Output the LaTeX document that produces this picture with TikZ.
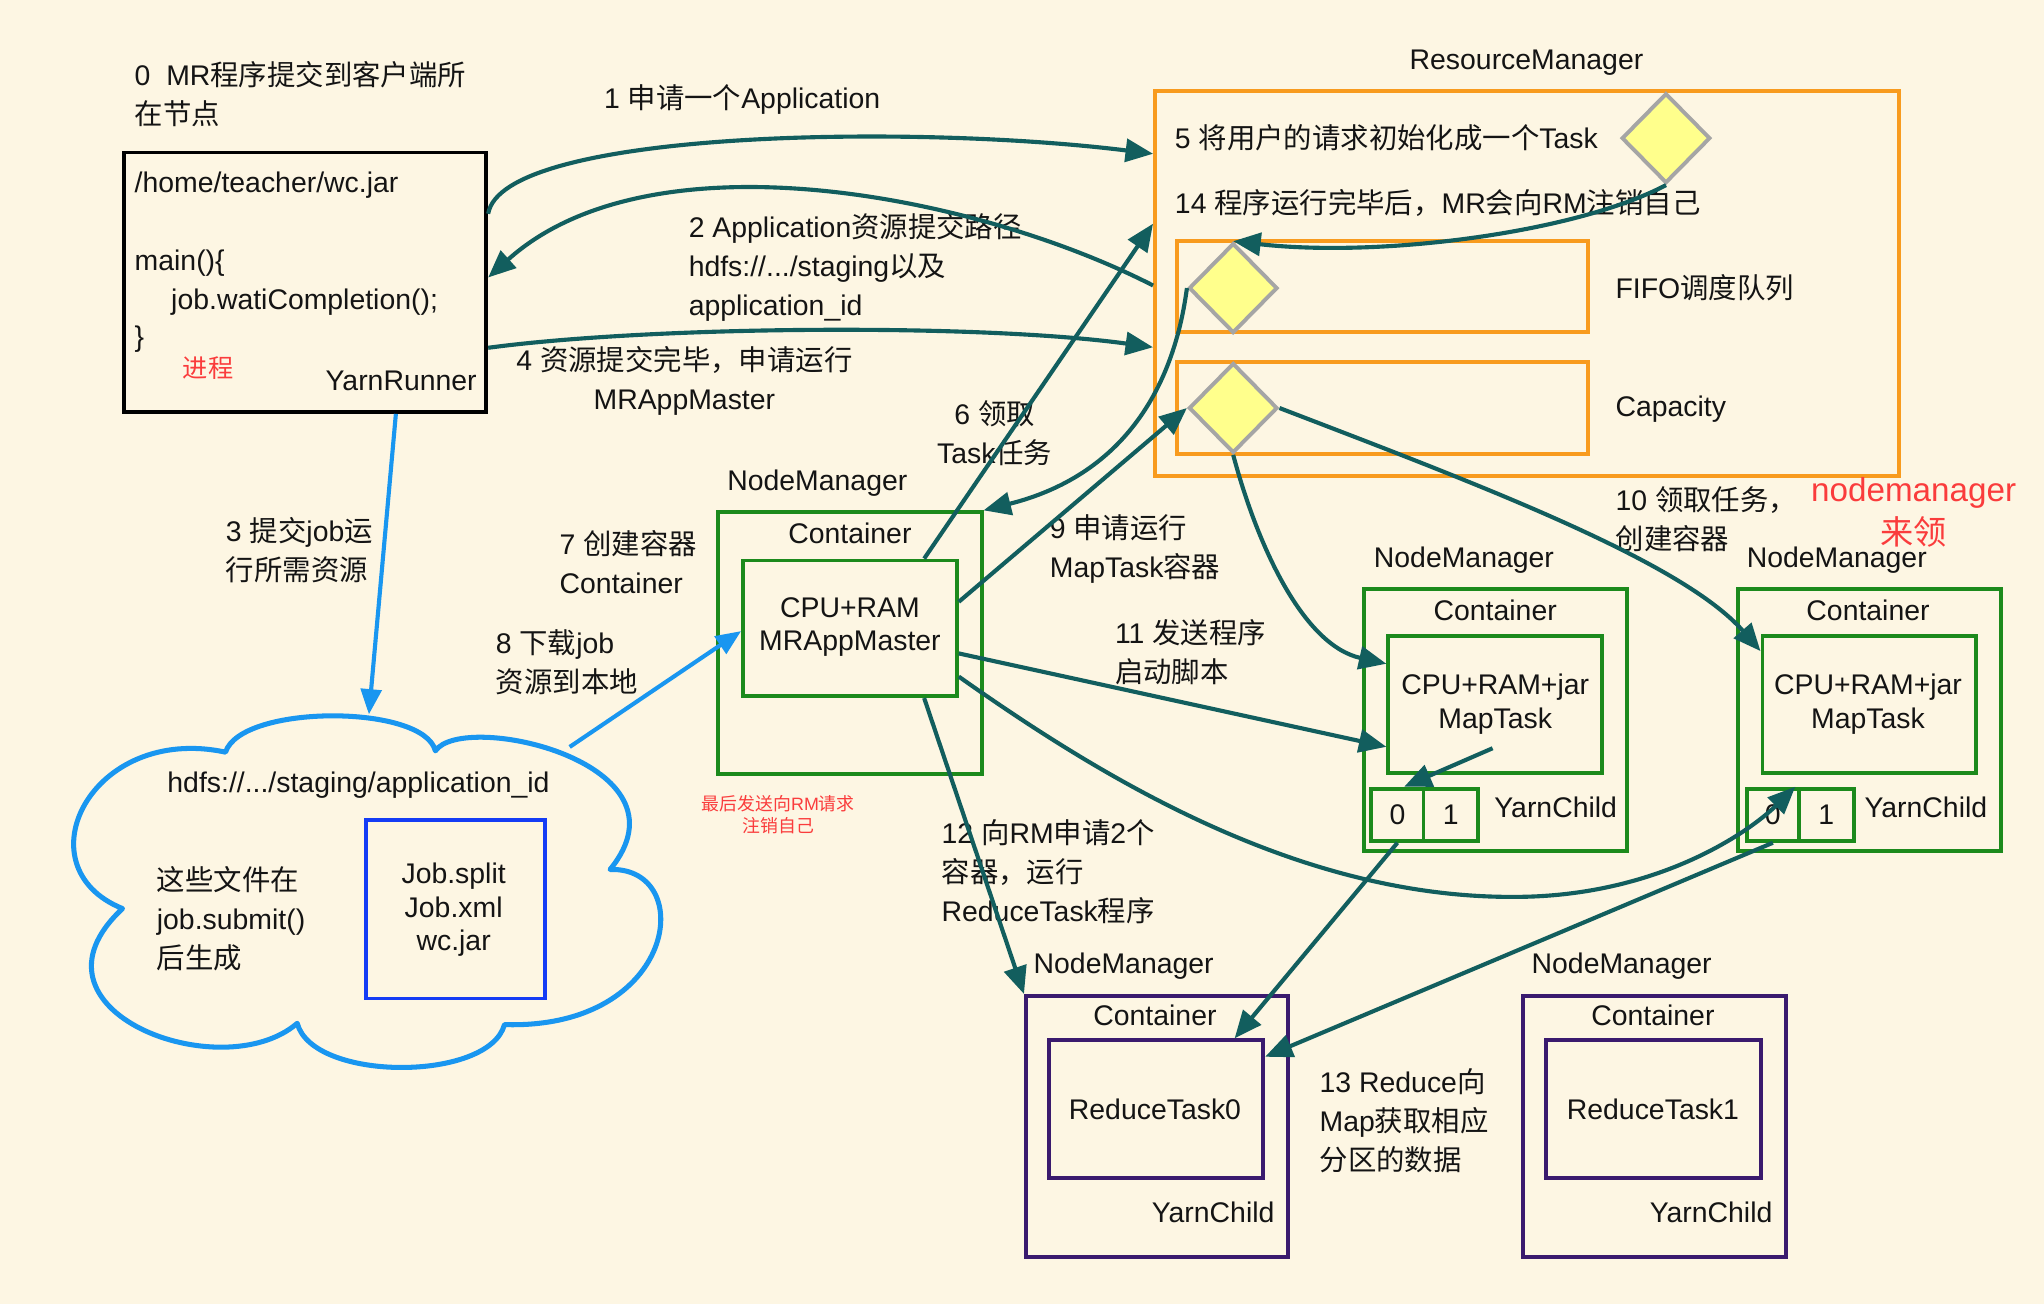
\documentclass[tikz,border=0pt]{standalone}
\usepackage{fontspec}
\setmainfont{Liberation Sans}
\newfontfamily\cjkfont[Scale=1.0]{Noto Sans CJK SC}
\usetikzlibrary{arrows.meta,shapes.geometric,fit,calc}
\XeTeXinterchartokenstate=1
\newXeTeXintercharclass\cjkclass
\makeatletter
\count@="3000
\loop\ifnum\count@<"3040 \XeTeXcharclass\count@=\cjkclass \advance\count@\@ne\repeat
\count@="4E00
\loop\ifnum\count@<"A000 \XeTeXcharclass\count@=\cjkclass \advance\count@\@ne\repeat
\count@="FF00
\loop\ifnum\count@<"FFF0 \XeTeXcharclass\count@=\cjkclass \advance\count@\@ne\repeat
\makeatother
\XeTeXinterchartoks 0 \cjkclass={\cjkfont}
\XeTeXinterchartoks 4095 \cjkclass={\cjkfont}
\XeTeXinterchartoks \cjkclass 0={\normalfont}
\XeTeXinterchartoks \cjkclass 4095={\normalfont}
\definecolor{bgc}{RGB}{253,246,227}
\definecolor{txt}{RGB}{20,20,20}
\definecolor{orangec}{RGB}{248,155,30}
\definecolor{greenc}{RGB}{28,138,28}
\definecolor{purplec}{RGB}{58,26,110}
\definecolor{cloudc}{RGB}{25,150,240}
\definecolor{jbc}{RGB}{20,60,245}
\definecolor{diay}{RGB}{255,255,140}
\definecolor{diag}{RGB}{165,165,165}
\definecolor{tealc}{RGB}{18,94,94}
\definecolor{redc}{RGB}{250,60,60}
\begin{document}
\begin{tikzpicture}[x=0.02cm,y=-0.02cm,
  lbl/.style={inner sep=0pt, font=\fontsize{12.4}{17}\selectfont, text=txt},
  blbl/.style={inner sep=0pt, font=\fontsize{12.4}{14.7}\selectfont, text=txt, align=center},
  bx/.style={draw, line width=1.7pt, inner sep=0pt},
  dia/.style={shape=diamond, draw=diag, fill=diay, line width=1.7pt, inner sep=0pt, minimum width=1.36cm, minimum height=1.38cm},
  conn/.style={draw=tealc, line width=1.8pt, -{Triangle[length=12pt,width=10pt]}},
  bconn/.style={draw=cloudc, line width=1.8pt, -{Triangle[length=11pt,width=9pt]}}]
\fill[bgc] (0,0) rectangle (1568,1000);
\useasboundingbox (0,0) rectangle (1568,1000);

% ---- boxes
\node[bx, draw=black, fit={(95,117)(373,316)}] (yr) {};
\node[bx, draw=orangec, fit={(886,70)(1457,365)}] (rm) {};
\node[bx, draw=orangec, fit={(903,185)(1218,255)}] (fifo) {};
\node[bx, draw=orangec, fit={(903,278)(1218,348)}] (cap) {};
\node[dia] (dtop) at (1278,106) {};
\node[dia] (dfifo) at (946,221) {};
\node[dia] (dcap) at (946,313) {};

\node[bx, draw=greenc, fit={(551,393)(753,594)}] (amo) {};
\node[bx, draw=greenc, fit={(570,430)(734,534)}] (ami) {};

\node[bx, draw=greenc, fit={(1046,452)(1248,653)}] (m1o) {};
\node[bx, draw=greenc, fit={(1065,488)(1229,593)}] (m1i) {};
\node[bx, draw=greenc, fit={(1052,605)(1092,645)}] (m1z) {};
\node[bx, draw=greenc, fit={(1092,605)(1134,645)}] (m1one) {};

\node[bx, draw=greenc, fit={(1333,452)(1535,653)}] (m2o) {};
\node[bx, draw=greenc, fit={(1352,488)(1516,593)}] (m2i) {};
\node[bx, draw=greenc, fit={(1340,605)(1380,645)}] (m2z) {};
\node[bx, draw=greenc, fit={(1380,605)(1422,645)}] (m2one) {};

\node[bx, draw=purplec, fit={(787,764)(988,964)}] (r0o) {};
\node[bx, draw=purplec, fit={(805,798)(969,904)}] (r0i) {};
\node[bx, draw=purplec, fit={(1168,764)(1370,964)}] (r1o) {};
\node[bx, draw=purplec, fit={(1186,798)(1351,904)}] (r1i) {};

% ---- cloud
\draw[draw=cloudc, line width=2.2pt, line join=round]
  (173,577) .. controls (185,540) and (325,540) .. (334,576)
  .. controls (355,545) and (535,585) .. (468,667)
  .. controls (535,665) and (520,790) .. (387,786)
  .. controls (375,830) and (240,830) .. (228,785)
  .. controls (170,835) and (10,775) .. (94,697)
  .. controls (15,665) and (70,555) .. cycle;
\coordinate (cloudtop) at (283,548);
\coordinate (cloudtr) at (437,573);
\node[bx, draw=jbc, fit={(281,629)(418,766)}] (jb) {};

% ---- texts
\node[lbl, anchor=west, align=left] (t0) at (103,72) {0~~MR程序提交到客户端所\\在节点};
\node[lbl, anchor=west] (t1) at (463,76) {1 申请一个Application};
\node[lbl, anchor=west, align=left] (t2) at (528,205) {2 Application资源提交路径\\hdfs://.../staging以及\\application\_id};
\node[lbl, align=center] (t4) at (525,292) {4 资源提交完毕，申请运行\\MRAppMaster};
\node[lbl, anchor=west, align=left] (t3) at (173,422) {3 提交job运\\行所需资源};
\node[lbl] (trm) at (1171,48) {ResourceManager};
\node[lbl, anchor=west] (t5) at (901,106) {5 将用户的请求初始化成一个Task};
\node[lbl, anchor=west] (t14) at (901,156) {14 程序运行完毕后，MR会向RM注销自己};
\node[lbl, anchor=west] (tfifo) at (1239,221) {FIFO调度队列};
\node[lbl, anchor=west] (tcap) at (1239,314) {Capacity};
\node[lbl, align=center] (t6) at (763,332) {6 领取\\Task任务};
\node[lbl, anchor=west, align=left] (t7) at (429,431) {7 创建容器\\Container};
\node[lbl, anchor=west, align=left] (t8) at (380,508) {8 下载job\\资源到本地};
\node[lbl, anchor=west, align=left] (t9) at (805,421) {9 申请运行\\MapTask容器};
\node[lbl, anchor=west, align=left] (t11) at (855,500) {11 发送程序\\启动脚本};
\node[lbl, anchor=west, align=left] (t10) at (1239,398) {10 领取任务，\\创建容器};
\node[inner sep=0pt, align=center, text=redc, font=\fontsize{14.5}{19}\selectfont] (tnmred) at (1468,393) {nodemanager\\来领};
\node[lbl, anchor=west, align=left] (t12) at (722,669) {12 向RM申请2个\\容器，运行\\ReduceTask程序};
\node[lbl, anchor=west, align=left] (t13) at (1012,860) {13 Reduce向\\Map获取相应\\分区的数据};
\node[inner sep=0pt, align=center, text=redc, font=\fontsize{7.8}{9.6}\selectfont] (tlast) at (597,625) {最后发送向RM请求\\注销自己};

% YarnRunner box
\node[lbl, anchor=west] (tpath) at (103,142) {/home/teacher/wc.jar};
\node[lbl, anchor=west] (tmain) at (103,202) {main()\{};
\node[lbl, anchor=west] (tjob) at (131,232) {job.watiCompletion();};
\node[lbl, anchor=west] (tbr) at (103,260) {\}};
\node[inner sep=0pt, text=redc, font=\fontsize{11}{13}\selectfont, anchor=west] (tproc) at (140,282) {进程};
\node[lbl, anchor=east] (tyr) at (366,292) {YarnRunner};

% AppMaster
\node[lbl] (nmam) at (627,371) {NodeManager};
\node[lbl] (cam) at (652,409) {Container};
\node[blbl] (tam) at (652,481) {CPU+RAM\\MRAppMaster};

% Map 1
\node[lbl] (nm1) at (1123,430) {NodeManager};
\node[lbl] (c1) at (1147,468) {Container};
\node[blbl] (tm1) at (1147,540) {CPU+RAM+jar\\MapTask};
\node[lbl] at (m1z.center) {0};
\node[lbl] at (m1one.center) {1};
\node[lbl, anchor=west] (yc1) at (1146,619) {YarnChild};
\coordinate (m1src) at (1145,574);

% Map 2
\node[lbl] (nm2) at (1409,430) {NodeManager};
\node[lbl] (c2) at (1433,468) {Container};
\node[blbl] (tm2) at (1433,540) {CPU+RAM+jar\\MapTask};
\node[lbl] at (m2z.center) {0};
\node[lbl] at (m2one.center) {1};
\node[lbl, anchor=west] (yc2) at (1430,619) {YarnChild};

% Reduce
\node[lbl] (nmr0) at (862,741) {NodeManager};
\node[lbl] (cr0) at (886,779) {Container};
\node[lbl] (tr0) at (886,851) {ReduceTask0};
\node[lbl, anchor=east] (ycr0) at (978,930) {YarnChild};
\node[lbl] (nmr1) at (1244,741) {NodeManager};
\node[lbl] (cr1) at (1268,779) {Container};
\node[lbl] (tr1) at (1268,851) {ReduceTask1};
\node[lbl, anchor=east] (ycr1) at (1360,930) {YarnChild};

% cloud texts
\node[lbl] (thdfs) at (275,602) {hdfs://.../staging/application\_id};
\node[lbl, anchor=west, align=left] (tfiles) at (120,705) {这些文件在\\job.submit()\\后生成};
\node[blbl] (tjb) at (348,698) {Job.split\\Job.xml\\wc.jar};

% ---- connectors
\draw[conn] ($(yr.north east)!0.24!(yr.south east)$) .. controls (385,100) and (700,95) .. ($(rm.north west)!0.166!(rm.south west)$);
\draw[conn] ($(rm.north west)!0.505!(rm.south west)$) .. controls (750,150) and (500,100) .. ($(yr.north east)!0.482!(yr.south east)$);
\draw[conn] ($(yr.north east)!0.749!(yr.south east)$) .. controls (500,250) and (750,248) .. ($(rm.north west)!0.664!(rm.south west)$);
\draw[bconn] ($(yr.south west)!0.748!(yr.south east)$) -- (cloudtop);
\draw[conn] ($(ami.north west)!0.841!(ami.north east)$) -- ($(rm.north west)!0.346!(rm.south west)$);
\draw[conn] (dfifo.west) .. controls (900,300) and (860,365) .. (amo.north east);
\draw[bconn] (cloudtr) -- ($(ami.north west)!0.52!(ami.south west)$);
\draw[conn] ($(ami.north east)!0.31!(ami.south east)$) -- (dcap.west);
\draw[conn] (dcap.south) .. controls (965,420) and (1000,495) .. ($(m1i.north west)!0.21!(m1i.south west)$);
\draw[conn] (dcap.east) .. controls (1130,370) and (1290,430) .. ($(m2i.north west)!0.12!(m2i.south west)$);
\draw[conn] ($(ami.north east)!0.68!(ami.south east)$) -- ($(m1i.north west)!0.8!(m1i.south west)$);
\draw[conn] ($(ami.north east)!0.846!(ami.south east)$) .. controls (850,600) and (1000,690) .. (1165,688) .. controls (1270,687) and (1340,640) .. ($(m2z.north west)!0.9!(m2z.north east)$);
\draw[conn] (m1src) -- ($(m1z.north west)!0.62!(m1z.north east)$);
\draw[conn] ($(ami.south west)!0.841!(ami.south east)$) -- (r0o.north west);
\draw[conn] ($(m1z.south west)!0.5!(m1z.south east)$) -- ($(r0i.north west)!0.86!(r0i.north east)$);
\draw[conn] ($(m2z.south west)!0.5!(m2z.south east)$) -- ($(r0i.north east)!0.13!(r0i.south east)$);
\draw[conn] (dtop.south) .. controls (1210,178) and (1060,198) .. (dfifo.north);
\end{tikzpicture}
\end{document}
